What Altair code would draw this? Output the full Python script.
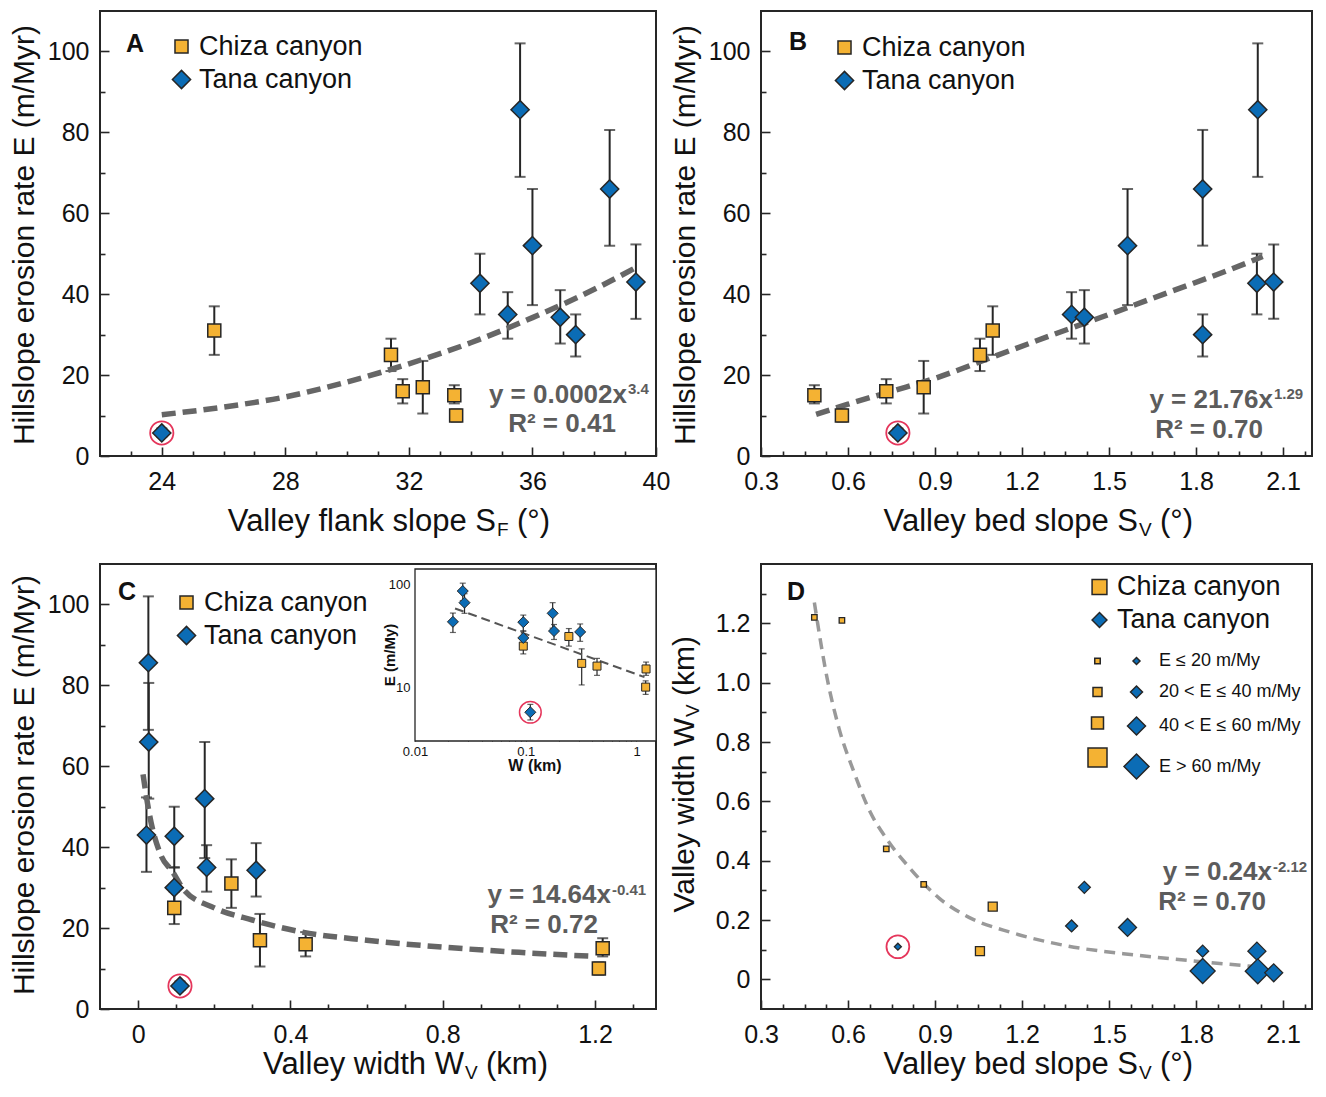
import json
import altair as alt
import pandas as pd

FONT = "Liberation Sans"
INK = "#262626"
ORANGE = "#F4B233"
BLUE = "#0B6CB5"
RING = "#E5365B"
EQ = "#5c5c5c"

CANYONS = ["Chiza canyon", "Tana canyon"]
E_CLASSES = ["E \u2264 20 m/My", "20 < E \u2264 40 m/My", "40 < E \u2264 60 m/My", "E > 60 m/My"]

# ---------------- data ----------------
canyon = ["Chiza canyon"] * 6 + ["Tana canyon"] * 9
E    = [15, 10, 16, 17, 25, 31,        5.7, 35, 34.3, 52, 66, 30, 42.7, 85.6, 43]
E_lo = [13, 8.5, 13, 10.5, 21, 25,     4.8, 29, 27.8, 37.3, 52, 24.6, 35, 69, 33.9]
E_hi = [17.5, 11.5, 19, 23.5, 29, 37,  6.8, 40.5, 41, 66, 80.6, 35, 50, 102, 52.3]
SF   = [33.47, 33.53, 31.8, 32.45, 31.42, 25.7,  24.0, 35.2, 36.9, 36.0, 38.5, 37.4, 34.3, 35.6, 39.35]
SV   = [0.484, 0.579, 0.732, 0.861, 1.055, 1.099, 0.772, 1.371, 1.415, 1.564, 1.823, 1.823, 2.010, 2.013, 2.068]
WV   = [1.22, 1.21, 0.44, 0.32, 0.095, 0.245,   0.11, 0.18, 0.31, 0.175, 0.028, 0.095, 0.095, 0.027, 0.022]
circled = [False] * 6 + [True] + [False] * 8

# fitted curves
fitA_x = [24, 26, 28, 30, 32, 34, 36, 38, 39.4]
fitA_y = [10.2, 12.1, 14.6, 18.3, 22.8, 28.0, 34.2, 41.2, 46.8]
fitB_x = [0.49, 0.6, 0.75, 0.9, 1.1, 1.3, 1.5, 1.7, 1.9, 2.03]
fitB_y = [10.3, 12.8, 16.0, 19.2, 24.5, 29.8, 35.0, 40.3, 45.6, 49.3]
fitC_x = [0.013, 0.03, 0.06, 0.09, 0.12, 0.2, 0.3, 0.42, 0.6, 0.8, 1.0, 1.2]
fitC_y = [58, 48, 38, 34, 29.5, 25, 22, 19.2, 17, 15.3, 14, 13]
fitD_x = [0.484, 0.528, 0.569, 0.62, 0.677, 0.732, 0.814, 0.915, 1.017, 1.163, 1.343, 1.6, 1.8, 2.04]
fitD_y = [1.27, 1.015, 0.846, 0.70, 0.563, 0.475, 0.374, 0.273, 0.209, 0.158, 0.115, 0.081, 0.061, 0.04]
fitIn_x = [0.023, 1.18]
fitIn_y = [58, 12.5]

# axis tick values
A_x_major = [24, 28, 32, 36, 40]
A_x_minor = [23, 25, 26, 27, 29, 30, 31, 33, 34, 35, 37, 38, 39]
E_major = [0, 20, 40, 60, 80, 100]
E_minor = [10, 30, 50, 70, 90]
S_major = [0.3, 0.6, 0.9, 1.2, 1.5, 1.8, 2.1]
S_minor = [0.375, 0.45, 0.525, 0.675, 0.75, 0.825, 0.975, 1.05, 1.125, 1.275, 1.35,
           1.425, 1.575, 1.65, 1.725, 1.875, 1.95, 2.025, 2.175]
W_major = [0, 0.4, 0.8, 1.2]
W_minor = [0.1, 0.2, 0.3, 0.5, 0.6, 0.7, 0.9, 1.0, 1.1, 1.3]
D_y_major = [0, 0.2, 0.4, 0.6, 0.8, 1.0, 1.2]
D_y_minor = [0.1, 0.3, 0.5, 0.7, 0.9, 1.1, 1.3]
In_x_major = [0.01, 0.1, 1]
In_x_minor = [0.02, 0.03, 0.04, 0.05, 0.06, 0.07, 0.08, 0.09, 0.2, 0.3, 0.4, 0.5, 0.6, 0.7, 0.8, 0.9]
In_y_major = [10, 100]
In_y_minor = [4, 5, 6, 7, 8, 9, 20, 30, 40, 50, 60, 70, 80, 90]


def eclass(e):
    if e <= 20:
        return E_CLASSES[0]
    if e <= 40:
        return E_CLASSES[1]
    if e <= 60:
        return E_CLASSES[2]
    return E_CLASSES[3]


df = pd.DataFrame(dict(canyon=canyon, E=E, Elo=E_lo, Ehi=E_hi, SF=SF, SV=SV, WV=WV,
                       circ=circled, Ecls=[eclass(e) for e in E]))
ONE = pd.DataFrame({"k": [0]})

W1, W2, H1, H2 = 556, 551, 445, 445

shape_scale = alt.Scale(domain=CANYONS, range=["square", "diamond"])
fill_scale = alt.Scale(domain=CANYONS, range=[ORANGE, BLUE])
stroke_scale = alt.Scale(domain=CANYONS, range=[INK, INK])
size_scale = alt.Scale(type="ordinal", domain=CANYONS, range=[170, 330])

ONE_DEC = "datum.value == 0 ? '0' : format(datum.value, '.1f')"


def qaxis(majors, minors, orient, pad, length, fmt="datum.label"):
    test = "indexof(%s, datum.value) >= 0" % json.dumps(majors)
    if orient == "bottom":
        dmaj, dmin = [0, length - 9, 9, 4000], [0, length - 5, 5, 4000]
    else:
        dmaj, dmin = [9, 4000], [5, 4000]
    return alt.Axis(
        orient=orient, values=sorted(majors + minors), title=None,
        domain=False, ticks=False, tickSize=0,
        grid=True, gridColor=INK, gridWidth=1.6, gridOpacity=1,
        gridDash={"condition": {"test": test, "value": dmaj}, "value": dmin},
        labelExpr=test + " ? " + fmt + " : ''",
        labelFont=FONT, labelFontSize=25, labelColor="#111111",
        labelPadding=pad, labelOverlap=False, labelFlush=False, labelBound=False)


def text(s, x, y, size, weight="normal", align="left", color="#111111", angle=0):
    kw = dict(text=s, font=FONT, fontSize=size, fontWeight=weight, align=align,
              baseline="alphabetic", color=color)
    if angle:
        kw["angle"] = angle
    return alt.Chart(ONE).mark_text(**kw).encode(x=alt.value(x), y=alt.value(y))


def canyon_legend(lx, ly, sym_size=None):
    kw = dict(orient="none", legendX=lx, legendY=ly, title=None, labelFont=FONT,
              labelFontSize=27, labelColor="#111111", labelOffset=4, rowPadding=5,
              labelLimit=500, padding=0, symbolStrokeWidth=1.5)
    if sym_size:
        kw["symbolSize"] = sym_size
    return alt.Legend(**kw)


def scatter_main(xfield, xscale, xaxis, yscale, yaxis, fit_x, fit_y, leg, fit_width=5.5):
    X = lambda f: alt.X(f, type="quantitative", scale=xscale, axis=xaxis)
    Y = lambda f: alt.Y(f, type="quantitative", scale=yscale, axis=yaxis)
    base = alt.Chart(df)
    err = base.mark_rule(color=INK, strokeWidth=2).encode(x=X(xfield), y=Y("Elo"), y2=alt.Y2("Ehi"))
    cap_lo = base.mark_tick(orient="horizontal", size=11, thickness=2, color=INK).encode(x=X(xfield), y=Y("Elo"))
    cap_hi = base.mark_tick(orient="horizontal", size=11, thickness=2, color=INK).encode(x=X(xfield), y=Y("Ehi"))
    fit = alt.Chart(pd.DataFrame({"fx": fit_x, "fy": fit_y})).mark_line(
        color="#666666", strokeWidth=fit_width, strokeDash=[14, 7], interpolate="monotone"
    ).encode(x=X("fx"), y=Y("fy"))
    pts = base.mark_point(filled=True, opacity=1, strokeWidth=1.5).encode(
        x=X(xfield), y=Y("E"),
        shape=alt.Shape("canyon:N", scale=shape_scale, legend=leg),
        fill=alt.Fill("canyon:N", scale=fill_scale, legend=leg),
        stroke=alt.Stroke("canyon:N", scale=stroke_scale, legend=leg),
        size=alt.Size("canyon:N", scale=size_scale, legend=leg),
    )
    ring = base.transform_filter("datum.circ").mark_point(
        shape="circle", size=540, filled=False, color=RING, strokeWidth=1.8, opacity=1
    ).encode(x=X(xfield), y=Y("E"))
    return [err, cap_lo, cap_hi, fit, pts, ring]


E_scale = alt.Scale(domain=[0, 110], nice=False, zero=False)
E_axis = qaxis(E_major, E_minor, "left", 11, H1)
YT = "Hillslope erosion rate E (m/Myr)"

# ---------------- Panel A ----------------
A_xs = alt.Scale(domain=[22, 40], nice=False, zero=False)
A_layers = scatter_main("SF", A_xs, qaxis(A_x_major, A_x_minor, "bottom", 13, H1), E_scale, E_axis,
                        fitA_x, fitA_y, canyon_legend(68, 22))
A_texts = [
    text("A", 35, 41, 25, "bold", "center"),
    text("y = 0.0002x", 527, 392, 26, "bold", "right", EQ),
    text("3.4", 528, 383, 15, "bold", "left", EQ),
    text("R\u00b2 = 0.41", 462, 421, 26, "bold", "center", EQ),
    text("Valley flank slope S", 396, 520, 31, align="right"),
    text("F", 397, 525, 19),
    text("(\u00b0)", 417, 520, 31),
    text(YT, -66, 224, 30, align="center", angle=270),
]
panelA = alt.layer(*A_layers, *A_texts).properties(width=W1, height=H1)

# ---------------- Panel B ----------------
S_scale = alt.Scale(domain=[0.3, 2.2], nice=False, zero=False)
B_layers = scatter_main("SV", S_scale, qaxis(S_major, S_minor, "bottom", 13, H1), E_scale, E_axis,
                        fitB_x, fitB_y, canyon_legend(70, 23))
B_texts = [
    text("B", 37, 39, 25, "bold", "center"),
    text("y = 21.76x", 512, 397, 26, "bold", "right", EQ),
    text("1.29", 513, 388, 15, "bold", "left", EQ),
    text("R\u00b2 = 0.70", 448, 427, 26, "bold", "center", EQ),
    text("Valley bed slope S", 377, 520, 31, align="right"),
    text("V", 378, 525, 19),
    text("(\u00b0)", 399, 520, 31),
    text(YT, -66, 224, 30, align="center", angle=270),
]
panelB = alt.layer(*B_layers, *B_texts).properties(width=W2, height=H1)

# ---------------- Panel C ----------------
W_scale = alt.Scale(domain=[-0.1, 1.36], nice=False, zero=False)
E_axis2 = qaxis(E_major, E_minor, "left", 11, H2)
C_layers = scatter_main("WV", W_scale, qaxis(W_major, W_minor, "bottom", 13, H2, ONE_DEC), E_scale, E_axis2,
                        fitC_x, fitC_y, canyon_legend(73, 25))
mainC = alt.layer(*C_layers)

in_xs = alt.Scale(type="log", domain=[0.01, 1.5], range=[315, 556], nice=False)
in_ys = alt.Scale(type="log", domain=[3, 140], range=[177, 5], nice=False)
in_xaxis = alt.Axis(
    orient="bottom", offset=-(H2 - 177), values=sorted(In_x_major + In_x_minor), title=None,
    domain=False, grid=False, ticks=True, tickSize={"expr": "-3"}, tickColor=INK, tickWidth=1,
    labelExpr="datum.value == 0.01 ? '0.01' : datum.value == 0.1 ? '0.1' : datum.value == 1 ? '1' : ''",
    labelFont=FONT, labelFontSize=13, labelColor="#111111", labelPadding=7,
    labelOverlap=False, labelFlush=False)
in_yaxis = alt.Axis(
    orient="left", offset=-315, values=sorted(In_y_major + In_y_minor), title=None,
    domain=False, grid=False, ticks=True, tickSize={"expr": "-3"}, tickColor=INK, tickWidth=1,
    labelExpr="datum.value == 10 ? '10' : datum.value == 100 ? '100' : ''",
    labelFont=FONT, labelFontSize=13, labelColor="#111111", labelPadding=8,
    labelOverlap=False, labelFlush=False)
IX = lambda f: alt.X(f, type="quantitative", scale=in_xs, axis=in_xaxis)
IY = lambda f: alt.Y(f, type="quantitative", scale=in_ys, axis=in_yaxis)
in_box = alt.Chart(ONE).mark_rect(fill="white", stroke=INK, strokeWidth=1.3).encode(
    x=alt.value(315), x2=alt.value(556), y=alt.value(5), y2=alt.value(177))
bC = alt.Chart(df)
in_err = bC.mark_rule(color=INK, strokeWidth=1.2).encode(x=IX("WV"), y=IY("Elo"), y2=alt.Y2("Ehi"))
in_cl = bC.mark_tick(orient="horizontal", size=6, thickness=1.2, color=INK).encode(x=IX("WV"), y=IY("Elo"))
in_ch = bC.mark_tick(orient="horizontal", size=6, thickness=1.2, color=INK).encode(x=IX("WV"), y=IY("Ehi"))
in_fit = alt.Chart(pd.DataFrame({"fx": fitIn_x, "fy": fitIn_y})).mark_line(
    color="#555555", strokeWidth=2, strokeDash=[9, 5]).encode(x=IX("fx"), y=IY("fy"))
in_sq = bC.transform_filter(alt.datum.canyon == "Chiza canyon").mark_point(
    shape="square", filled=True, fill=ORANGE, stroke=INK, strokeWidth=1, size=64, opacity=1
).encode(x=IX("WV"), y=IY("E"))
in_di = bC.transform_filter(alt.datum.canyon == "Tana canyon").mark_point(
    shape="diamond", filled=True, fill=BLUE, stroke=INK, strokeWidth=1, size=121, opacity=1
).encode(x=IX("WV"), y=IY("E"))
in_ring = bC.transform_filter("datum.circ").mark_point(
    shape="circle", size=470, filled=False, color=RING, strokeWidth=1.5, opacity=1
).encode(x=IX("WV"), y=IY("E"))
inset = alt.layer(in_box, in_err, in_cl, in_ch, in_fit, in_sq, in_di, in_ring)

C_texts = [
    text("C", 27, 36, 25, "bold", "center"),
    text("y = 14.64x", 511, 339, 26, "bold", "right", EQ),
    text("-0.41", 512, 331, 15, "bold", "left", EQ),
    text("R\u00b2 = 0.72", 444, 369, 26, "bold", "center", EQ),
    text("E (m/My)", 295, 91, 15, "bold", "center", angle=270),
    text("W (km)", 435, 207, 16, "bold", "center"),
    text("Valley width W", 364, 510, 31, align="right"),
    text("V", 365, 515, 19),
    text("(km)", 386, 510, 31),
    text(YT, -66, 221, 30, align="center", angle=270),
]
panelC = alt.layer(mainC, inset, *C_texts).resolve_scale(
    x="independent", y="independent").properties(width=W1, height=H2)

# ---------------- Panel D ----------------
D_yscale = alt.Scale(domain=[-0.1, 1.4], nice=False, zero=False)
D_xaxis = qaxis(S_major, S_minor, "bottom", 13, H2)
D_yaxis = qaxis(D_y_major, D_y_minor, "left", 11, H2, ONE_DEC)
DX = lambda f: alt.X(f, type="quantitative", scale=S_scale, axis=D_xaxis)
DY = lambda f: alt.Y(f, type="quantitative", scale=D_yscale, axis=D_yaxis)
legD = canyon_legend(325, 9.5, sym_size=220)
fitD = alt.Chart(pd.DataFrame({"fx": fitD_x, "fy": fitD_y})).mark_line(
    color="#999999", strokeWidth=3.5, strokeDash=[11, 7], interpolate="monotone"
).encode(x=DX("fx"), y=DY("fy"))


def d_points(cname, sizes, size_legend):
    return alt.Chart(df).transform_filter(alt.datum.canyon == cname).mark_point(
        filled=True, opacity=1, strokeWidth=1.3
    ).encode(
        x=DX("SV"), y=DY("WV"),
        shape=alt.Shape("canyon:N", scale=shape_scale, legend=legD),
        fill=alt.Fill("canyon:N", scale=fill_scale, legend=legD),
        stroke=alt.Stroke("canyon:N", scale=stroke_scale, legend=legD),
        size=alt.Size("Ecls:O", scale=alt.Scale(type="ordinal", domain=E_CLASSES, range=sizes),
                      legend=size_legend),
    )


sq_leg = alt.Legend(orient="none", legendX=326, legendY=88, title=None, symbolType="square",
                    symbolFillColor=ORANGE, symbolStrokeColor=INK, symbolStrokeWidth=1.5,
                    labelExpr="' '", labelOpacity=0, labelFontSize=18, labelFont=FONT,
                    rowPadding=13, padding=0)
di_leg = alt.Legend(orient="none", legendX=362, legendY=88, title=None, symbolType="diamond",
                    symbolFillColor=BLUE, symbolStrokeColor=INK, symbolStrokeWidth=1.5,
                    labelFontSize=18, labelFont=FONT, labelColor="#111111", labelOffset=9,
                    labelLimit=500, rowPadding=13, padding=0)
d_sq = d_points("Chiza canyon", [30, 81, 144, 361], sq_leg)
d_di = d_points("Tana canyon", [49, 144, 324, 625], di_leg)
d_ring = alt.Chart(df).transform_filter("datum.circ").mark_point(
    shape="circle", size=520, filled=False, color=RING, strokeWidth=1.8, opacity=1
).encode(x=DX("SV"), y=DY("WV"))
D_texts = [
    text("D", 35, 36, 25, "bold", "center"),
    text("y = 0.24x", 511, 316, 26, "bold", "right", EQ),
    text("-2.12", 512, 308, 15, "bold", "left", EQ),
    text("R\u00b2 = 0.70", 451, 346, 26, "bold", "center", EQ),
    text("Valley bed slope S", 377, 510, 31, align="right"),
    text("V", 378, 515, 19),
    text("(\u00b0)", 399, 510, 31),
    text("Valley width W", -67, 154, 30, align="right", angle=270),
    text("V", -62, 153, 19, align="left", angle=270),
    text("(km)", -67, 132, 30, align="left", angle=270),
]
panelD = alt.layer(fitD, d_sq, d_di, d_ring, *D_texts).resolve_scale(
    size="independent").properties(width=W2, height=H2)

indep = dict(shape="independent", fill="independent", size="independent", stroke="independent")
chart = alt.concat(panelA, panelB, panelC, panelD, columns=2,
                   spacing={"row": 108, "column": 105}, bounds="flush").resolve_scale(**indep).properties(
    padding={"left": 0, "top": 2, "right": 0, "bottom": 0}, background="white"
).configure_view(stroke=INK, strokeWidth=2).configure_legend(
    symbolStrokeColor=INK, symbolStrokeWidth=1.5
)

chart.save("out.html", embed_options={"renderer": "svg", "actions": False})
